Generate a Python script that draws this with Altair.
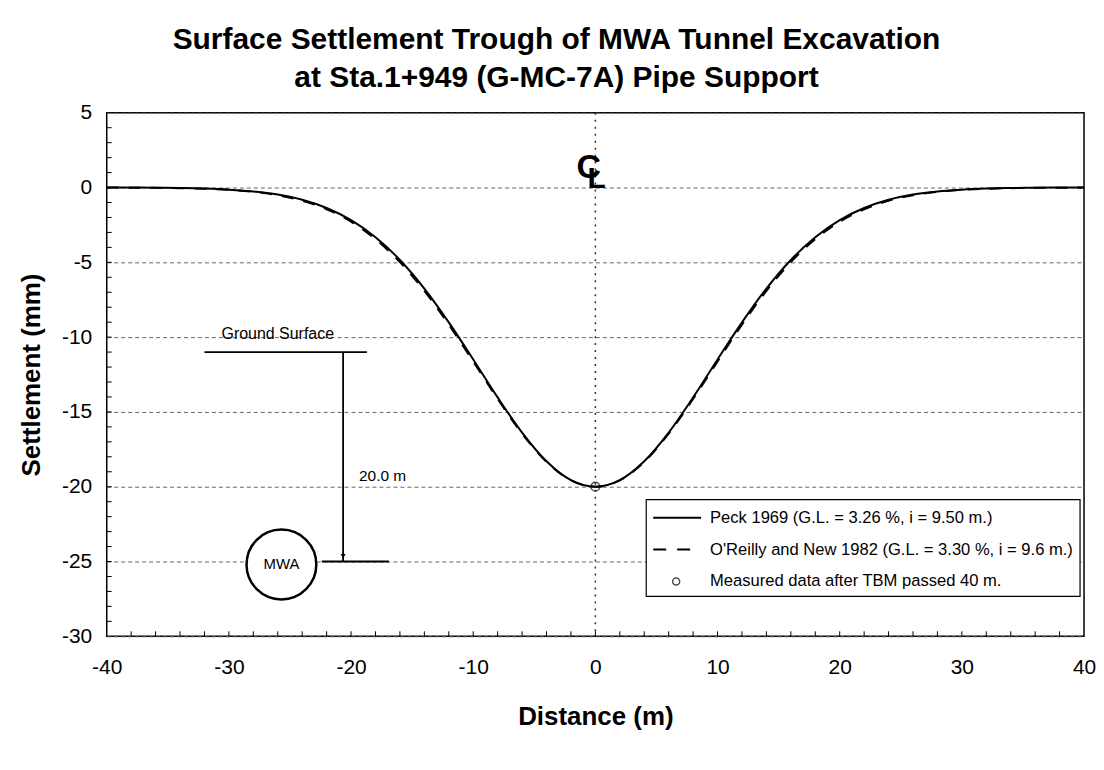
import altair as alt
import pandas as pd

# ---------------- data ----------------
distance = list(range(-40, 41, 2))
peck_1969 = [0.00, 0.00, -0.01, -0.03, -0.07, -0.14, -0.26, -0.47, -0.82, -1.37, -2.18,
             -3.32, -4.84, -6.75, -9.01, -11.49, -14.03, -16.38, -18.30, -19.56, -20.00,
             -19.56, -18.30, -16.38, -14.03, -11.49, -9.01, -6.75, -4.84, -3.32, -2.18,
             -1.37, -0.82, -0.47, -0.26, -0.14, -0.07, -0.03, -0.01, 0.00, 0.00]
oreilly_1982 = [0.00, -0.01, -0.02, -0.04, -0.08, -0.15, -0.28, -0.51, -0.88, -1.45, -2.28,
                -3.45, -4.99, -6.91, -9.16, -11.63, -14.13, -16.45, -18.34, -19.57, -20.00,
                -19.57, -18.34, -16.45, -14.13, -11.63, -9.16, -6.91, -4.99, -3.45, -2.28,
                -1.45, -0.88, -0.51, -0.28, -0.15, -0.08, -0.04, -0.02, -0.01, 0.00]
measured_x = [0]
measured_y = [-20.0]

x_tick_labels = [-40, -30, -20, -10, 0, 10, 20, 30, 40]
y_tick_labels = [5, 0, -5, -10, -15, -20, -25, -30]
x_minor = list(range(-38, 40, 2))
y_minor = list(range(-29, 5))

legend_labels = ["Peck 1969 (G.L. = 3.26 %, i = 9.50 m.)",
                 "O'Reilly and New 1982 (G.L. = 3.30 %, i = 9.6 m.)",
                 "Measured data after TBM passed 40 m."]

title_lines = ["Surface Settlement Trough of MWA Tunnel Excavation",
               "at Sta.1+949 (G-MC-7A) Pipe Support"]

# annotation positions (data units)
ground_x, ground_x2, ground_y = -32.0, -18.7, -11.0
arrow_x, arrow_y_top, arrow_y_bot = -20.65, -11.0, -25.0
tunnel_line_x, tunnel_line_x2 = -22.4, -16.9
tunnel_x, tunnel_y = -25.7, -25.2
dim_text_x, dim_text_y = -19.35, -19.3
ground_text_x, ground_text_y = -26.0, -9.8

FONT = "Liberation Sans"
W, H = 980, 525

xs = alt.Scale(domain=[-40, 40], nice=False, zero=False)
ys = alt.Scale(domain=[-30, 5], nice=False, zero=False)

x_axis = alt.Axis(values=x_tick_labels, ticks=False, domain=False, grid=False,
                  labelExpr="'' + datum.value",
                  labelFont=FONT, labelFontSize=21, labelColor="black", labelPadding=20,
                  titleFont=FONT, titleFontSize=26, titleFontWeight="bold",
                  titleColor="black", titlePadding=26, labelFlush=False)
y_axis = alt.Axis(values=y_tick_labels, ticks=False, domain=False, grid=True,
                  labelExpr="'' + datum.value",
                  gridColor="#666666", gridDash=[4, 3], gridWidth=1,
                  labelFont=FONT, labelFontSize=21, labelColor="black", labelPadding=15,
                  titleFont=FONT, titleFontSize=26, titleFontWeight="bold",
                  titleColor="black", titlePadding=17)

X = alt.X("x:Q", scale=xs, axis=x_axis, title="Distance (m)")
Y = alt.Y("y:Q", scale=ys, axis=y_axis, title="Settlement (mm)")

peck_df = pd.DataFrame({"x": distance, "y": peck_1969})
oreilly_df = pd.DataFrame({"x": distance, "y": oreilly_1982})

peck = alt.Chart(peck_df).mark_line(color="black", strokeWidth=2,
                                    interpolate="monotone").encode(x=X, y=Y)
oreilly = alt.Chart(oreilly_df).mark_line(color="black", strokeWidth=2, strokeDash=[12, 10],
                                          interpolate="monotone").encode(x=X, y=Y)

center = alt.Chart(pd.DataFrame({"x": [0]})).mark_rule(
    color="#333333", strokeDash=[2, 5], strokeWidth=1.5).encode(x=X)

measured = alt.Chart(pd.DataFrame({"x": measured_x, "y": measured_y})).mark_point(
    shape="circle", size=80, color="black", filled=False, strokeWidth=1.3).encode(x=X, y=Y)

ytick = alt.Chart(pd.DataFrame({"y": y_minor})).mark_rule(color="black", strokeWidth=1).encode(
    y=Y, x=alt.value(0), x2=alt.value(5))
xtick = alt.Chart(pd.DataFrame({"x": x_minor})).mark_rule(color="black", strokeWidth=1).encode(
    x=X, y=alt.value(H), y2=alt.value(H - 5))

ann_lines = pd.DataFrame({
    "x": [ground_x, arrow_x, tunnel_line_x],
    "x2": [ground_x2, arrow_x, tunnel_line_x2],
    "y": [ground_y, arrow_y_top, arrow_y_bot],
    "y2": [ground_y, arrow_y_bot, arrow_y_bot],
})
ann = alt.Chart(ann_lines).mark_rule(color="black", strokeWidth=1.8).encode(
    x=X, x2="x2:Q", y=Y, y2="y2:Q")
arrowhead = alt.Chart(pd.DataFrame({"x": [arrow_x], "y": [arrow_y_bot + 0.35]})).mark_point(
    shape="triangle-down", size=25, filled=True, color="black", opacity=1).encode(x=X, y=Y)
tunnel = alt.Chart(pd.DataFrame({"x": [tunnel_x], "y": [tunnel_y]})).mark_point(
    shape="circle", size=4900, filled=False, color="black", strokeWidth=2.5,
    fill="white", fillOpacity=1).encode(x=X, y=Y)

center_texts = pd.DataFrame({
    "x": [ground_text_x, tunnel_x],
    "y": [ground_text_y, tunnel_y],
    "t": ["Ground Surface", "MWA"],
    "s": [16, 15],
})
ann_text_c = alt.Chart(center_texts).mark_text(font=FONT, color="black", baseline="middle",
                                               align="center").encode(
    x=X, y=Y, text="t:N", size=alt.Size("s:Q", scale=None))
ann_text_l = alt.Chart(pd.DataFrame({"x": [dim_text_x], "y": [dim_text_y], "t": ["20.0 m"]})).mark_text(
    font=FONT, color="black", baseline="middle", align="left", fontSize=15.5).encode(
    x=X, y=Y, text="t:N")

cl = pd.DataFrame({"x": [-0.55, 0.1], "y": [1.3, 0.55], "t": ["C", "L"], "s": [34, 30]})
cl_text = alt.Chart(cl).mark_text(font=FONT, fontWeight="bold", color="black",
                                  baseline="middle", align="center").encode(
    x=X, y=Y, text="t:N", size=alt.Size("s:Q", scale=None))

# manual legend (pixel layout inside the plot area)
one = pd.DataFrame({"k": [0]})
leg_box = alt.Chart(one).mark_rect(fill="white", stroke="black", strokeWidth=1.2).encode(
    x=alt.value(541), x2=alt.value(976), y=alt.value(388), y2=alt.value(485))
leg_solid = alt.Chart(one).mark_rule(color="black", strokeWidth=2).encode(
    x=alt.value(548), x2=alt.value(596), y=alt.value(406))
leg_dash = alt.Chart(one).mark_rule(color="black", strokeWidth=2, strokeDash=[13, 11]).encode(
    x=alt.value(548), x2=alt.value(596), y=alt.value(438))
leg_pt = alt.Chart(one).mark_point(shape="circle", size=50, filled=False, color="black",
                                   strokeWidth=1.5).encode(x=alt.value(571), y=alt.value(470))
leg_rows = [406, 438, 470]
leg_txts = [
    alt.Chart(one).mark_text(font=FONT, fontSize=16.6, color="black", align="left",
                             baseline="middle", text=lbl).encode(
        x=alt.value(605), y=alt.value(py))
    for lbl, py in zip(legend_labels, leg_rows)
]

chart = alt.layer(
    peck, center, ytick, xtick, ann, arrowhead, tunnel, ann_text_c, ann_text_l, cl_text,
    oreilly, measured,
    leg_box, leg_solid, leg_dash, leg_pt, *leg_txts,
).properties(
    width=W, height=H,
    title=alt.TitleParams(text=title_lines, font=FONT, fontSize=30, fontWeight="bold",
                          color="black", anchor="middle", dx=-39, lineHeight=38, offset=9),
    padding={"left": 99, "top": 104, "right": 12, "bottom": 125},
    autosize=alt.AutoSizeParams(type="none"),
    background="white",
).configure_view(stroke="black", strokeWidth=1.5)

chart.save("out.html", embed_options={"renderer": "svg", "actions": False})
